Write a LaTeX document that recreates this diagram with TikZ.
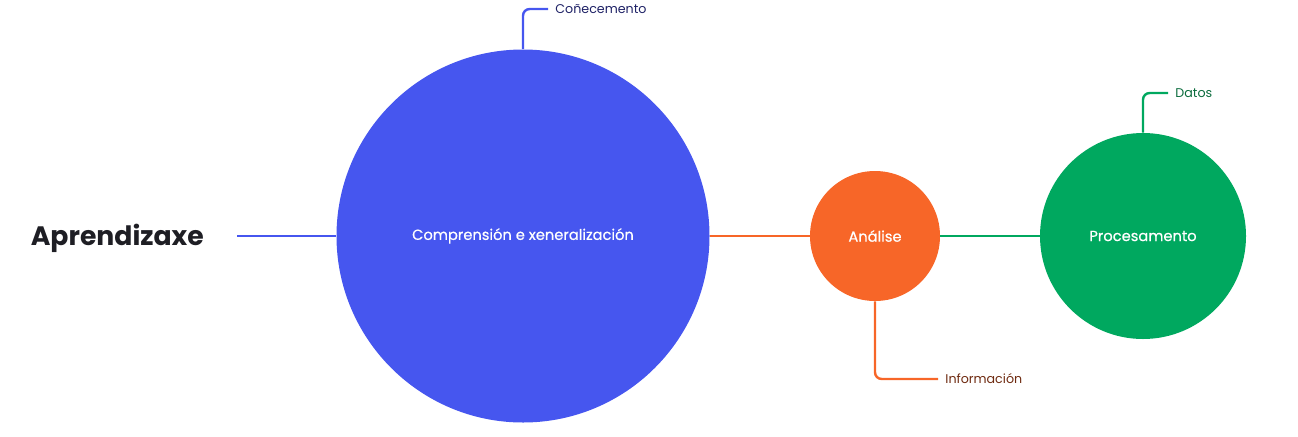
\documentclass[tikz,border=0pt]{standalone}
\usepackage{fontspec}
\setmainfont{Poppins}
\newfontfamily\medfont[FakeBold=0.6]{Poppins}
\usetikzlibrary{positioning}
\definecolor{cblue}{HTML}{4656EF}
\definecolor{corange}{HTML}{F76628}
\definecolor{cgreen}{HTML}{00A85F}
\definecolor{tblue}{HTML}{1F2266}
\definecolor{torange}{HTML}{6E2A10}
\definecolor{tgreen}{HTML}{0A6B3C}
\definecolor{tmain}{HTML}{1E1E24}
\begin{document}
\begin{tikzpicture}[x=0.75pt,y=-0.75pt,line width=1.8pt,semithick]
        \tikzstyle{every circle}=[circle,inner sep=0pt,text=white,font=\medfont\fontsize{11}{13}\selectfont]
        \tikzstyle{tag}=[anchor=west,inner sep=0pt,font=\fontsize{9.5}{12}\selectfont]
        \useasboundingbox (0,0) rectangle (1298,436);
        \node[font=\fontsize{20}{24}\selectfont\bfseries,text=tmain,anchor=west] (root) at (26,238.5) {Aprendizaxe};
        \coordinate (r0) at (237,236);
        \node[every circle,fill=cblue,minimum size=373*0.75pt] (comp) at (523,236) {\raisebox{-1.5pt}{Comprensión e xeneralización}};
        \node[every circle,fill=corange,minimum size=130*0.75pt] (anal) at (875,236) {\raisebox{-0.5pt}{Análise}};
        \node[every circle,fill=cgreen,minimum size=206*0.75pt] (proc) at (1143,236) {\raisebox{-0.5pt}{Procesamento}};
        \node[tag,text=tblue] (cone) at (555,9) {Coñecemento};
        \node[tag,text=tgreen] (dat) at (1175,93) {Datos};
        \node[tag,text=torange] (info) at (945,379) {Información};
    \path[line width=1.8pt]
        (r0) edge [draw=cblue] (comp.west)
        (comp.east) edge [draw=corange] (anal.west)
        (anal.east) edge [draw=cgreen] (proc.west);
    \draw[cblue,line width=1.8pt,rounded corners=5pt] (comp.north) |- ([xshift=-7*0.75pt]cone.west);
    \draw[cgreen,line width=1.8pt,rounded corners=5pt] (proc.north) |- ([xshift=-7*0.75pt]dat.west);
    \draw[corange,line width=1.8pt,rounded corners=5pt] (anal.south) |- ([xshift=-7*0.75pt]info.west);
    \end{tikzpicture}
\end{document}
